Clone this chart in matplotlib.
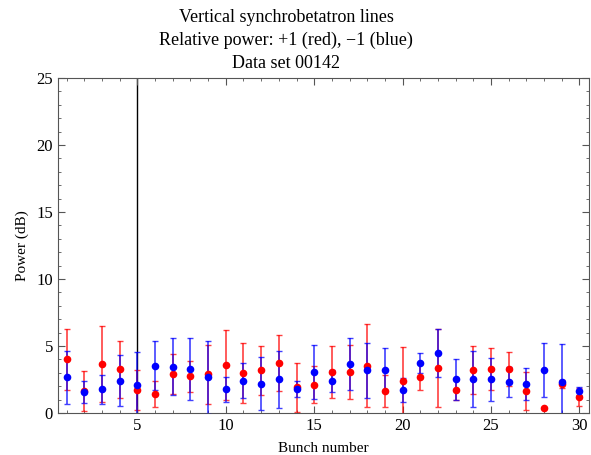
import matplotlib
matplotlib.use('Agg')
import matplotlib.pyplot as plt
from matplotlib.ticker import MultipleLocator

plt.rcParams['font.family'] = ['Liberation Serif', 'DejaVu Serif']

bunch = list(range(1, 31))
red_power = [4.0, 1.67, 3.66, 3.28, 1.69, 1.42, 2.94, 2.74, 2.89, 3.6,
             2.99, 3.18, 3.73, 1.91, 2.11, 3.04, 3.08, 3.53, 1.67, 2.41,
             2.69, 3.36, 1.72, 3.2, 3.28, 3.28, 1.64, 0.4, 2.19, 1.22]
red_err = [2.3, 1.5, 2.86, 2.13, 1.5, 1.0, 1.5, 1.15, 2.2, 2.6,
           2.26, 1.84, 2.1, 1.8, 1.4, 1.93, 2.0, 3.1, 1.2, 2.5,
           1.0, 2.9, 0.75, 1.8, 1.55, 1.25, 1.42, 0.0, 0.3, 0.67]
blue_power = [2.66, 1.59, 1.77, 2.41, 2.07, 3.53, 3.46, 3.28, 2.66, 1.77,
              2.41, 2.19, 2.51, 1.79, 3.06, 2.39, 3.66, 3.18, 3.2, 1.72,
              3.7, 4.48, 2.51, 2.51, 2.51, 2.31, 2.14, 3.2, 2.31, 1.64]
blue_err = [1.97, 0.82, 1.1, 1.9, 2.5, 1.83, 2.1, 2.33, 2.7, 0.95,
            1.3, 2.0, 2.1, 0.6, 1.98, 0.8, 1.95, 2.05, 1.65, 0.9,
            0.75, 1.77, 1.55, 2.08, 1.6, 1.1, 1.2, 2.0, 2.84, 0.32]
marked_bunch = 5

fig = plt.figure(figsize=(5.91, 4.55), dpi=100)
ax = fig.add_axes([0.098, 0.0923, 0.8986, 0.7363])

ax.axvline(marked_bunch, color='black', lw=1.0, zorder=1)

ax.errorbar(bunch, red_power, yerr=red_err, fmt='none', ecolor='red',
            elinewidth=1.2, capsize=2.5, capthick=1.0, alpha=0.75, zorder=2)
ax.errorbar(bunch, blue_power, yerr=blue_err, fmt='none', ecolor='blue',
            elinewidth=1.2, capsize=2.5, capthick=1.0, alpha=0.75, zorder=3)
ax.plot(bunch, red_power, 'o', color='red', ms=5.5, mec='none', zorder=4)
ax.plot(bunch, blue_power, 'o', color='blue', ms=5.5, mec='none', zorder=5)

ax.set_xlim(0.5, 30.55)
ax.set_ylim(0, 25)
ax.xaxis.set_major_locator(MultipleLocator(5))
ax.xaxis.set_minor_locator(MultipleLocator(1))
ax.yaxis.set_major_locator(MultipleLocator(5))
ax.yaxis.set_minor_locator(MultipleLocator(1))
ax.tick_params(which='both', direction='in', top=True, right=True,
               colors='#555555', labelcolor='black', labelsize=12)
ax.tick_params(which='major', length=5)
ax.tick_params(which='minor', length=2.5)
for s in ax.spines.values():
    s.set_color('#555555')

ax.set_xlabel('Bunch number', fontsize=11, labelpad=6)
ax.set_ylabel('Power (dB)', fontsize=11, labelpad=5)
ax.set_title('Vertical synchrobetatron lines\nRelative power: +1 (red), \u22121 (blue)\nData set 00142',
             fontsize=13, linespacing=1.45, pad=7, x=0.43)

fig.savefig('out.png', dpi=100)
